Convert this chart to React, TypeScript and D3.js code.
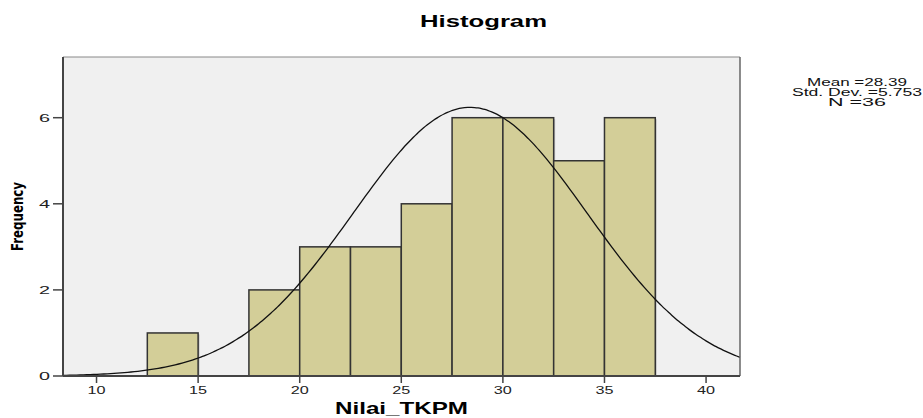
import * as d3 from "d3";

const binStarts = [12.5, 15, 17.5, 20, 22.5, 25, 27.5, 30, 32.5, 35];
const binCounts = [1, 0, 2, 3, 3, 4, 6, 6, 5, 6];
const binWidth = 2.5;
const xTicks = [10, 15, 20, 25, 30, 35, 40];
const yTicks = [0, 2, 4, 6];
const mean = 28.39;
const stdDev = 5.753;
const total = 36;
const statLines = ["Mean =28.39", "Std. Dev. =5.753", "N =36"];
const statWidths = [100, 130, 58];

const W = 923;
const H = 418;
const plot = { left: 63, right: 740, top: 57, bottom: 376 };

export default function App() {
  const x = d3.scaleLinear().domain([8.35, 41.67]).range([plot.left, plot.right]);
  const y = d3.scaleLinear().domain([0, 7.41]).range([plot.bottom, plot.top]);

  const density = (v: number) =>
    (total * binWidth * Math.exp(-0.5 * ((v - mean) / stdDev) ** 2)) / (stdDev * Math.sqrt(2 * Math.PI));
  const [d0, d1] = x.domain();
  const curveXs = d3.range(200).map((i) => d0 + (i / 199) * (d1 - d0));
  const curve = d3
    .line<number>()
    .x((v) => x(v))
    .y((v) => y(density(v)))
    .curve(d3.curveBasis)(curveXs) ?? "";

  const font = "'Liberation Sans', Arial, sans-serif";

  return (
    <svg width={W} height={H} style={{ position: "absolute", left: 0, top: 0 }} fontFamily={font}>
      <rect width={W} height={H} fill="#fff" />
      <text
        x={483.5}
        y={27}
        textAnchor="middle"
        fontSize={16.5}
        fontWeight="bold"
        textLength={127}
        lengthAdjust="spacingAndGlyphs"
      >
        Histogram
      </text>
      <rect
        x={plot.left}
        y={plot.top}
        width={plot.right - plot.left}
        height={plot.bottom - plot.top}
        fill="#f0f0f0"
      />
      {binStarts.map((s, i) =>
        binCounts[i] > 0 ? (
          <g key={s}>
            <rect
              x={x(s) + 1.5}
              y={y(binCounts[i]) + 1.5}
              width={x(s + binWidth) - x(s)}
              height={plot.bottom - y(binCounts[i]) - 1.5}
              fill="#c8c8c8"
            />
            <rect
              x={x(s)}
              y={y(binCounts[i])}
              width={x(s + binWidth) - x(s)}
              height={plot.bottom - y(binCounts[i])}
              fill="#d3ce98"
              stroke="#333"
              strokeWidth={1.5}
            />
          </g>
        ) : null
      )}
      <path d={curve} fill="none" stroke="#111" strokeWidth={1.3} />
      <line x1={plot.left} x2={plot.right} y1={plot.top} y2={plot.top} stroke="#888" strokeWidth={1} />
      <line x1={plot.right} x2={plot.right} y1={plot.top} y2={plot.bottom} stroke="#666" strokeWidth={1.5} />
      <line x1={plot.left} x2={plot.left} y1={plot.top} y2={plot.bottom} stroke="#444" strokeWidth={2} />
      <line x1={plot.left} x2={plot.right} y1={plot.bottom} y2={plot.bottom} stroke="#444" strokeWidth={2} />
      {yTicks.map((t) => (
        <g key={t}>
          <line x1={plot.left - 10} x2={plot.left} y1={y(t)} y2={y(t)} stroke="#444" strokeWidth={1.5} />
          <text
            x={plot.left - 13}
            y={y(t) + 4}
            textAnchor="end"
            fontSize={11}
            fill="#222"
            textLength={11}
            lengthAdjust="spacingAndGlyphs"
          >
            {t}
          </text>
        </g>
      ))}
      {xTicks.map((t) => (
        <g key={t}>
          <line x1={x(t)} x2={x(t)} y1={plot.bottom} y2={plot.bottom + 7} stroke="#444" strokeWidth={1.5} />
          <text
            x={x(t)}
            y={plot.bottom + 17.5}
            textAnchor="middle"
            fontSize={11.5}
            fill="#222"
            textLength={18}
            lengthAdjust="spacingAndGlyphs"
          >
            {t}
          </text>
        </g>
      ))}
      <text
        x={401.5}
        y={413.5}
        textAnchor="middle"
        fontSize={17}
        fontWeight="bold"
        textLength={133}
        lengthAdjust="spacingAndGlyphs"
      >
        Nilai_TKPM
      </text>
      <text
        transform={`translate(23,${(plot.top + plot.bottom) / 2}) rotate(-90)`}
        textAnchor="middle"
        fontSize={15.5}
        fontWeight="bold"
        fontFamily="'DejaVu Sans Condensed', 'Liberation Sans Narrow', sans-serif"
        textLength={69}
        lengthAdjust="spacingAndGlyphs"
      >
        Frequency
      </text>
      {statLines.map((s, i) => (
        <text
          key={s}
          x={857}
          y={86 + i * 10}
          textAnchor="middle"
          fontSize={10}
          fill="#111"
          textLength={statWidths[i]}
          lengthAdjust="spacingAndGlyphs"
        >
          {s}
        </text>
      ))}
    </svg>
  );
}
